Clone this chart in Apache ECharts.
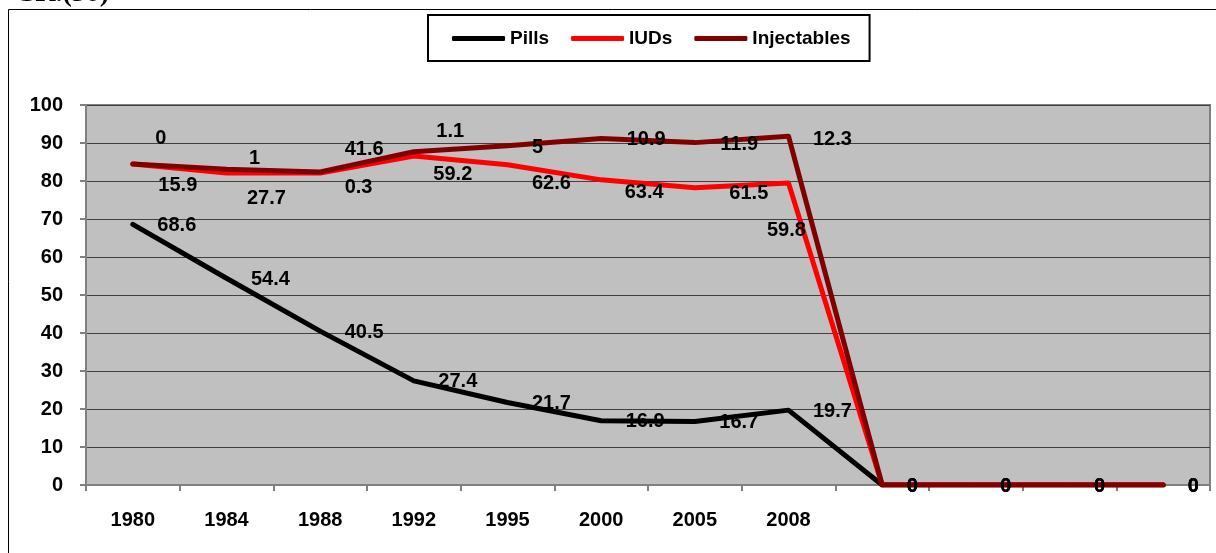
<!DOCTYPE html>
<html>
<head>
<meta charset="utf-8">
<script src="https://cdn.jsdelivr.net/npm/echarts@6/dist/echarts.min.js"></script>
<style>
html, body { margin: 0; padding: 0; background: #fff; }
#chart { width: 1216px; height: 553px; }
</style>
</head>
<body>
<div id="chart"></div>
<script>
// years on the x axis, the sheet keeps four empty slots after 2008
var years = ['1980', '1984', '1988', '1992', '1995', '2000', '2005', '2008', '', '', '', ''];

// y axis ticks
var yMin = 0, yMax = 100, yStep = 10;

// values per method (stacked in the chart)
var pills = [68.6, 54.4, 40.5, 27.4, 21.7, 16.9, 16.7, 19.7, 0, 0, 0, 0];
var iuds = [15.9, 27.7, 41.6, 59.2, 62.6, 63.4, 61.5, 59.8, 0, 0, 0, 0];
var injectables = [0, 1, 0.3, 1.1, 5, 10.9, 11.9, 12.3, 0, 0, 0, 0];

// label nudges [dx, dy], the labels were moved by hand in the original
var iudNudge = [[1, 22], [-4, 25], [0, -24], [-5, 19], [0, 19], [-1, 13], [10, 6], [-46, 48]];
var injNudge = [[-2, -25], [-2, -11], [0, 16], [-2, -20], [0, 2], [1, 1], [1, 2], [0, 3]];

var FONT = '"Liberation Sans", Arial, sans-serif';

function withNudge(values, nudge) {
    return values.map(function (v, i) {
        var n = nudge && nudge[i];
        return n ? { value: v, label: { offset: n } } : v;
    });
}

function lineSeries(name, color, values, nudge) {
    return {
        name: name,
        type: 'line',
        stack: 'total',
        data: withNudge(values, nudge),
        symbol: 'circle',
        symbolSize: 1,
        lineStyle: { color: color, width: 5, cap: 'round', join: 'round' },
        itemStyle: { color: color },
        label: {
            show: true,
            position: 'right',
            distance: 24,
            offset: [0, 1],
            color: '#000',
            fontFamily: FONT,
            fontWeight: 'bold',
            fontSize: 20
        },
        emphasis: { disabled: true }
    };
}

var chart = echarts.init(document.getElementById('chart'));
chart.setOption({
    animation: false,
    backgroundColor: '#fff',
    graphic: [
        {
            type: 'rect',
            silent: true,
            z: -10,
            shape: { x: 8.5, y: 9.5, width: 1300, height: 700 },
            style: { fill: 'none', stroke: '#000', lineWidth: 1 }
        },
        {
            type: 'text',
            left: 15,
            top: -20,
            style: { text: 'CR.(30)', font: 'bold 28px "Liberation Serif", serif', fill: '#000' }
        }
    ],
    legend: {
        left: 428,
        top: 15,
        padding: [14, 19, 13, 24],
        borderColor: '#000',
        borderWidth: 2,
        backgroundColor: '#fff',
        icon: 'roundRect',
        itemWidth: 53,
        itemHeight: 5,
        itemGap: 22,
        textStyle: { color: '#000', fontFamily: FONT, fontWeight: 'bold', fontSize: 19 },
        data: ['Pills', 'IUDs', 'Injectables']
    },
    grid: {
        left: 86,
        top: 105,
        right: 6,
        bottom: 68,
        show: true,
        backgroundColor: '#C0C0C0',
        borderColor: '#808080',
        borderWidth: 2
    },
    xAxis: {
        type: 'category',
        data: years,
        boundaryGap: true,
        axisLine: { show: true, lineStyle: { color: '#808080', width: 2 } },
        axisTick: { show: true, length: 6, alignWithLabel: false, lineStyle: { color: '#808080', width: 2 } },
        axisLabel: { interval: 0, margin: 25, color: '#000', fontFamily: FONT, fontWeight: 'bold', fontSize: 20 },
        splitLine: { show: false }
    },
    yAxis: {
        type: 'value',
        min: yMin,
        max: yMax,
        interval: yStep,
        axisLine: { show: true, lineStyle: { color: '#808080', width: 2 } },
        axisTick: { show: true, length: 6, lineStyle: { color: '#808080', width: 2 } },
        axisLabel: { margin: 23, color: '#000', fontFamily: FONT, fontWeight: 'bold', fontSize: 20 },
        splitLine: { show: true, lineStyle: { color: '#404040', width: 1 } }
    },
    series: [
        lineSeries('Pills', '#000000', pills, null),
        lineSeries('IUDs', '#FF0000', iuds, iudNudge),
        lineSeries('Injectables', '#800000', injectables, injNudge)
    ]
});
</script>
</body>
</html>
